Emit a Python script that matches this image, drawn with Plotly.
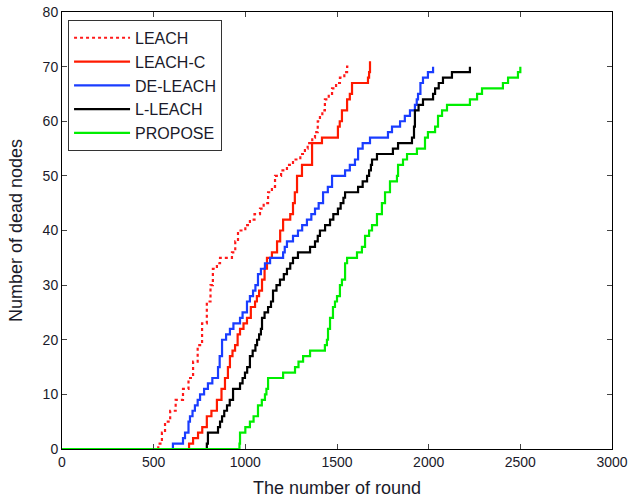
import plotly.graph_objects as go

# ---- data (rounds at which dead-node count steps up) ----
leach_x = [0, 525, 545, 562, 590, 620, 660, 690, 715, 740, 764, 790, 810, 823, 845, 862, 927, 945, 960, 1000,
           1025, 1050, 1080, 1100, 1124, 1145, 1162, 1195, 1227, 1260, 1300, 1325, 1340, 1365, 1380, 1395,
           1407, 1420, 1434, 1455, 1473, 1495, 1516, 1540, 1555, 1562]
leach_y = [0, 1, 3, 5, 7, 9, 11, 13, 16, 19, 23, 27, 30, 33, 34, 35, 36, 38, 40, 41,
           42, 43, 44, 45, 47, 48, 50, 51, 52, 53, 54, 55, 56, 57, 58, 60,
           61, 62, 64, 65, 66, 67, 68, 69, 70, 70]

leachc_x = [0, 693, 715, 742, 765, 790, 815, 845, 870, 889, 905, 916, 930, 944, 958, 971, 990, 1009, 1030, 1053,
            1063, 1075, 1091, 1105, 1118, 1145, 1173, 1190, 1206, 1245, 1260, 1270, 1282, 1309, 1364, 1418,
            1505, 1515, 1527, 1555, 1570, 1582, 1669, 1675, 1680]
leachc_y = [0, 1, 2, 3, 4, 6, 7, 9, 11, 13, 15, 17, 18, 19, 21, 22, 23, 24, 26, 27,
            28, 29, 31, 33, 35, 36, 38, 40, 42, 43, 45, 47, 50, 52, 56, 57,
            59, 60, 62, 64, 65, 67, 68, 69, 71]

deleach_x = [0, 605, 660, 671, 690, 698, 712, 725, 740, 753, 775, 796, 820, 851, 860, 873, 895, 916, 935, 971,
             985, 1009, 1025, 1042, 1055, 1069, 1085, 1107, 1135, 1206, 1215, 1227, 1260, 1287, 1310, 1336,
             1360, 1380, 1400, 1424, 1450, 1473, 1544, 1570, 1598, 1615, 1640, 1680, 1778, 1800, 1844, 1870,
             1898, 1925, 1935, 1942, 1955, 1969, 1996, 2024]
deleach_y = [0, 1, 2, 3, 5, 6, 7, 8, 9, 10, 11, 12, 13, 15, 17, 20, 21, 22, 23, 24,
             25, 27, 28, 29, 30, 32, 33, 34, 35, 36, 37, 38, 39, 40, 41, 42,
             43, 44, 45, 47, 48, 50, 51, 52, 53, 55, 56, 57, 58, 59, 60, 61,
             62, 63, 64, 65, 67, 68, 69, 70]

lleach_x = [0, 790, 796, 851, 862, 873, 885, 900, 915, 933, 971, 985, 998, 1010, 1025, 1040, 1055, 1064, 1075,
            1085, 1091, 1105, 1124, 1140, 1151, 1170, 1189, 1210, 1227, 1245, 1260, 1287, 1353, 1380, 1395,
            1407, 1435, 1462, 1480, 1505, 1520, 1535, 1544, 1615, 1640, 1664, 1675, 1685, 1691, 1718, 1805,
            1833, 1909, 1920, 1925, 1945, 1969, 2024, 2035, 2055, 2078, 2127, 2225]
lleach_y = [0, 1, 3, 4, 5, 6, 7, 8, 9, 11, 12, 13, 14, 15, 17, 18, 19, 20, 21,
            22, 24, 25, 26, 27, 29, 30, 31, 32, 33, 34, 35, 36, 37, 38, 39,
            40, 41, 42, 43, 44, 45, 46, 47, 48, 49, 50, 51, 52, 53, 54, 55,
            56, 57, 59, 62, 63, 64, 65, 66, 67, 68, 69, 70]

propose_x = [0, 968, 971, 1000, 1025, 1045, 1069, 1090, 1107, 1115, 1124, 1206, 1271, 1290, 1315, 1353, 1434,
             1445, 1451, 1462, 1478, 1489, 1500, 1516, 1527, 1544, 1555, 1609, 1636, 1653, 1675, 1691, 1718,
             1745, 1762, 1789, 1827, 1833, 1860, 1882, 1936, 1980, 1996, 2035, 2051, 2073, 2100, 2225, 2264,
             2291, 2405, 2433, 2487, 2500]
propose_y = [0, 1, 3, 4, 5, 6, 8, 9, 10, 11, 13, 14, 15, 16, 17, 18, 19,
             20, 22, 24, 26, 27, 28, 30, 31, 34, 35, 36, 37, 39, 40, 41, 43,
             45, 47, 49, 50, 52, 53, 54, 55, 57, 58, 59, 61, 62, 63, 64, 65,
             66, 67, 68, 69, 70]

x_ticks = [0, 500, 1000, 1500, 2000, 2500, 3000]
y_ticks = [0, 10, 20, 30, 40, 50, 60, 70, 80]

series = [
    ("LEACH", leach_x, leach_y, "#ff1a1a", "dot"),
    ("LEACH-C", leachc_x, leachc_y, "#ff1a00", "solid"),
    ("DE-LEACH", deleach_x, deleach_y, "#1a3dff", "solid"),
    ("L-LEACH", lleach_x, lleach_y, "#000000", "solid"),
    ("PROPOSE", propose_x, propose_y, "#00ee00", "solid"),
]

FONT = "Arial, Liberation Sans, sans-serif"
TXT = "#1a1a2a"
fig = go.Figure()
for i, (name, xs, ys, col, dash) in enumerate(series):
    fig.add_trace(go.Scatter(
        x=xs, y=ys, name=name, mode="lines",
        line=dict(color=col, width=2.2, dash=dash, shape="hv"),
        legendgroup=f"g{i}",
    ))

axis_common = dict(
    showline=True, linecolor="#000000", linewidth=1, mirror="ticks",
    ticks="inside", ticklen=5, tickcolor="#444444", tickwidth=1,
    showgrid=False, zeroline=False, automargin=False,
    tickfont=dict(family=FONT, size=14, color=TXT),
)

fig.update_layout(
    width=629, height=501,
    margin=dict(l=62, r=17, t=12, b=52),
    paper_bgcolor="white", plot_bgcolor="white",
    showlegend=True,
    legend=dict(
        x=0.011, y=0.982, xanchor="left", yanchor="top",
        bgcolor="white", bordercolor="#333333", borderwidth=1,
        font=dict(family=FONT, size=16, color=TXT),
        tracegroupgap=0, itemwidth=56,
    ),
    xaxis=dict(range=[0, 3000], tickvals=x_ticks, ticktext=[str(v) for v in x_ticks],
               title=dict(text="The number of round", font=dict(family=FONT, size=18, color=TXT), standoff=12),
               **axis_common),
    yaxis=dict(range=[0, 80], tickvals=y_ticks, ticktext=[str(v) for v in y_ticks],
               title=dict(text="Number of dead nodes", font=dict(family=FONT, size=18, color=TXT), standoff=15),
               **axis_common),
)

fig.write_html("out.html")
